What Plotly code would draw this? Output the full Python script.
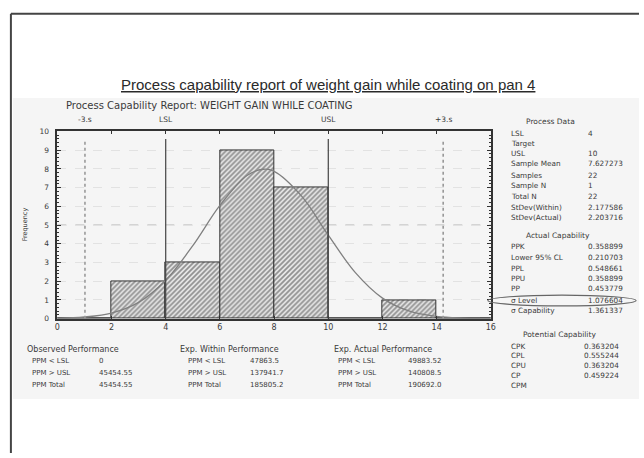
import plotly.graph_objects as go

W, H = 644, 458

# ---------------- data ----------------
bin_left = [0, 2, 4, 6, 8, 10, 12, 14]
bin_counts = [0, 2, 3, 9, 7, 0, 1, 0]
bin_width = 2

curve_x = [0, 1, 2, 3, 4, 5, 6, 7, 7.6, 8, 9, 10, 11, 12, 13, 14, 15, 15.6]
curve_y = [0.02, 0.09, 0.3, 0.87, 2.05, 3.9, 6.05, 7.65, 7.98, 7.87, 6.57, 4.46, 2.46, 1.1, 0.4, 0.12, 0.03, 0.01]

spec_names = ["-3.s", "LSL", "USL", "+3.s"]
spec_values = [1.02, 4, 10, 14.24]
spec_styles = ["dot", "solid", "solid", "dot"]

x_ticks = [0, 2, 4, 6, 8, 10, 12, 14, 16]
y_ticks = [0, 1, 2, 3, 4, 5, 6, 7, 8, 9, 10]

title_text = "Process capability report of weight gain while coating on pan 4"
subtitle_text = "Process Capability Report: WEIGHT GAIN WHILE COATING"
y_title = "Frequency"

obs_labels = ["PPM < LSL", "PPM > USL", "PPM Total"]
obs_values = ["0", "45454.55", "45454.55"]
within_values = ["47863.5", "137941.7", "185805.2"]
actual_values = ["49883.52", "140808.5", "190692.0"]

pd_labels = ["LSL", "Target", "USL", "Sample Mean", "Samples", "Sample N", "Total N",
             "StDev(Within)", "StDev(Actual)"]
pd_values = ["4", "", "10", "7.627273", "22", "1", "22", "2.177586", "2.203716"]
ac_labels = ["PPK", "Lower 95% CL", "PPL", "PPU", "PP", "σ Level", "σ Capability"]
ac_values = ["0.358899", "0.210703", "0.548661", "0.358899", "0.453779", "1.076604", "1.361337"]
pc_labels = ["CPK", "CPL", "CPU", "CP", "CPM"]
pc_values = ["0.363204", "0.555244", "0.363204", "0.459224", ""]


def px(x):
    return x / W


def py(y):
    return 1 - y / H


FONT = "DejaVu Sans"
TXT = "#3a3a3a"

fig = go.Figure()

fig.add_trace(go.Bar(
    x=[b + bin_width / 2 for b in bin_left], y=bin_counts, width=bin_width,
    marker=dict(color="white", line=dict(color="#333", width=1),
                pattern=dict(shape="/", fgcolor="#3a3a3a", bgcolor="#e8e8e8", size=3.5, solidity=0.5)),
    showlegend=False, hoverinfo="skip"))

fig.add_trace(go.Scatter(
    x=curve_x, y=curve_y, mode="lines", line=dict(color="#808080", width=1.3, shape="spline"),
    showlegend=False, hoverinfo="skip"))

shapes = []
# grey report background
shapes.append(dict(type="rect", xref="paper", yref="paper", x0=px(10), x1=1, y0=py(403), y1=py(96),
                   fillcolor="#f5f5f5", line=dict(width=0), layer="below"))
# outer frame
shapes.append(dict(type="line", xref="paper", yref="paper", x0=px(8), x1=1, y0=py(10), y1=py(10),
                   line=dict(color="#444", width=2)))
shapes.append(dict(type="line", xref="paper", yref="paper", x0=px(8), x1=px(8), y0=py(10), y1=0,
                   line=dict(color="#444", width=2)))
# centre line at 5
shapes.append(dict(type="line", xref="x", yref="y", x0=0, x1=16, y0=5, y1=5,
                   line=dict(color="#aaa", width=1, dash="dash"), layer="below"))
# spec lines
for v, st in zip(spec_values, spec_styles):
    shapes.append(dict(type="line", xref="x", yref="y", x0=v, x1=v, y0=0, y1=9.6,
                       line=dict(color="#444" if st == "solid" else "#999", width=1.2 if st == "solid" else 1.6,
                                 dash=st), layer="above"))
# hand-drawn ellipse around sigma level
shapes.append(dict(type="circle", xref="paper", yref="paper", x0=px(491), x1=px(641), y0=py(308), y1=py(297),
                   line=dict(color="#666", width=1.2)))

fig.update_layout(shapes=shapes)

ann = []


def text(x, y, s, size=7.5, anchor="left", color=TXT, family=FONT, **kw):
    ann.append(dict(x=px(x), y=py(y), xref="paper", yref="paper", text=s, showarrow=False,
                    xanchor=anchor, yanchor="middle", font=dict(size=size, color=color, family=family), **kw))


text(329, 82, "<u>" + title_text + "</u>", size=15, anchor="center", color="#2a2a2a", family="Liberation Sans")
text(62, 104, subtitle_text, size=10)
for n, v in zip(spec_names, spec_values):
    ann.append(dict(x=v, y=py(118), xref="x", yref="paper", text=n, showarrow=False, xanchor="center",
                    yanchor="middle", font=dict(size=7.5, color=TXT, family=FONT)))
text(22, 225, y_title, size=6.5, anchor="center", textangle=-90)

# bottom performance blocks
blocks = [(22, 27, 95, "Observed Performance", obs_values),
          (177, 185, 248, "Exp. Within Performance", within_values),
          (333, 337, 408, "Exp. Actual Performance", actual_values)]
for hx, lx, vx, head, vals in blocks:
    text(hx, 352, head, size=8)
    for i, (lab, val) in enumerate(zip(obs_labels, vals)):
        yy = 364 + i * 12.5
        text(lx, yy, lab, size=7)
        text(vx, yy, val, size=7)

# right panel
text(554, 120, "Process Data", size=7.5, anchor="center")
pd_y = [132, 142.5, 152.5, 163, 174.5, 185.5, 196.5, 207.5, 218]
for lab, val, yy in zip(pd_labels, pd_values, pd_y):
    text(512, yy, lab, size=7.3)
    if val:
        text(590, yy, val, size=7.3)
text(562, 236, "Actual Capability", size=7.5, anchor="center")
ac_y = [247, 258.5, 269.5, 280.5, 290.5, 302, 313]
for lab, val, yy in zip(ac_labels, ac_values, ac_y):
    text(512, yy, lab, size=7.3)
    text(590, yy, val, size=7.3)
text(564, 337, "Potential Capability", size=7.5, anchor="center")
pc_y = [349, 359, 369, 379, 389]
for lab, val, yy in zip(pc_labels, pc_values, pc_y):
    text(512, yy, lab, size=7.3)
    if val:
        text(586, yy, val, size=7.3)

fig.update_layout(annotations=ann)

fig.update_layout(
    width=W, height=H, margin=dict(l=0, r=0, t=0, b=0),
    paper_bgcolor="white", plot_bgcolor="white", bargap=0,
    xaxis=dict(domain=[px(55), px(494)], range=[0, 16], tickvals=x_ticks, ticks="inside", ticklen=3,
               tickcolor="#333", showline=True, linecolor="#333", linewidth=1.8, mirror="ticks",
               showgrid=False, zeroline=False, tickfont=dict(size=8, color=TXT, family=FONT)),
    yaxis=dict(domain=[py(321), py(130)], range=[0, 10], tickvals=y_ticks, ticks="inside", ticklen=4,
               tickcolor="#333", showline=True, linecolor="#333", linewidth=1.5, mirror="ticks",
               showgrid=True, gridcolor="#e2e2e2", griddash="dash", gridwidth=1, zeroline=False,
               ticklabelstandoff=5,
               tickfont=dict(size=7.5, color=TXT, family=FONT),
               minor=dict(dtick=0.2, ticks="inside", ticklen=2, tickcolor="#333", showgrid=False)),
)

fig.write_html("out.html", config={"displayModeBar": False},
               post_script="document.body.style.margin='0';document.body.style.overflow='hidden';")
